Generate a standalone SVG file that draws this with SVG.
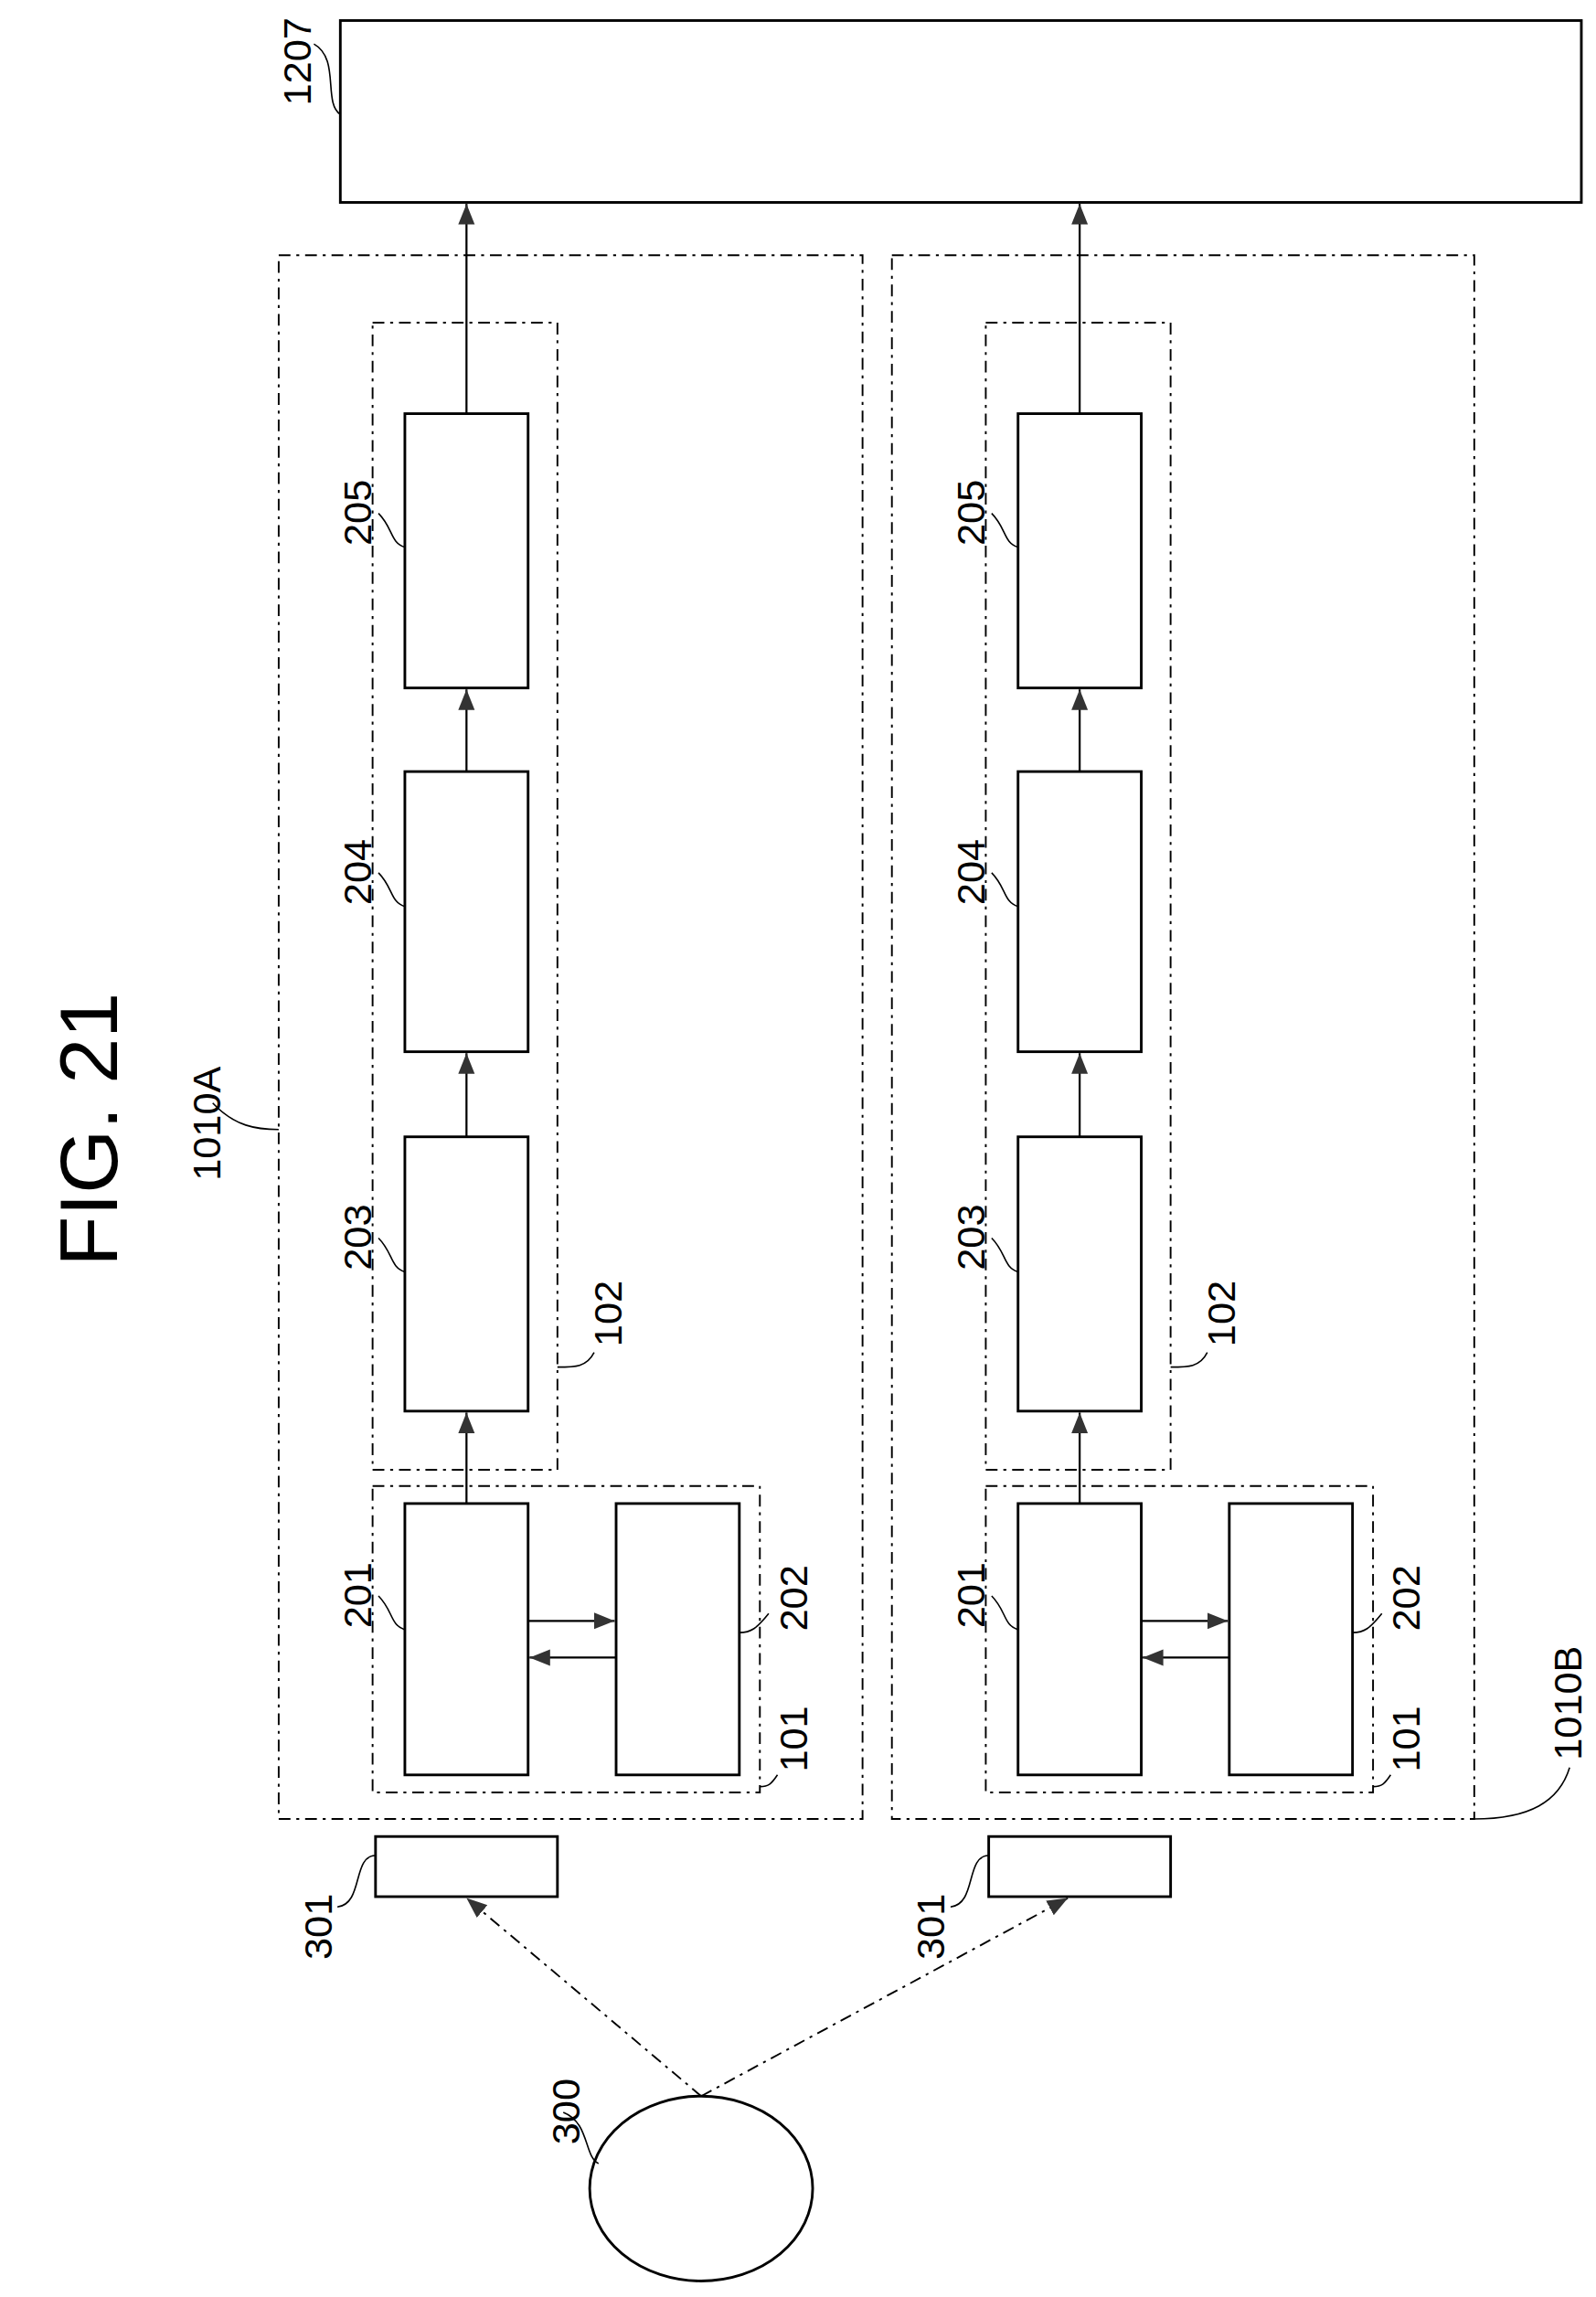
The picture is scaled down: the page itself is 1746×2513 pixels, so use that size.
<svg xmlns="http://www.w3.org/2000/svg" width="1746" height="2513" viewBox="0 0 1746 2513">
<style>
.b{fill:none;stroke:#000;stroke-width:1.8}
.d{fill:none;stroke:#000;stroke-width:1.2;stroke-dasharray:8,4,2,4}
.c{fill:none;stroke:#000;stroke-width:1.4}
.l{fill:none;stroke:#000;stroke-width:1}
.t{font-family:"Liberation Sans",Arial,sans-serif;font-size:27px;fill:#000}
</style>
<defs>
<marker id="a" viewBox="0 0 10 10" refX="10" refY="5" markerWidth="14" markerHeight="14" markerUnits="userSpaceOnUse" orient="auto"><path d="M0,1 L10,5 L0,9 Z" fill="#333"/></marker>
</defs>
<rect width="1746" height="2513" fill="#fff"/>
<g transform="scale(1.6048)">
<text class="t" style="font-size:56px" transform="translate(80,770) rotate(-90)" text-anchor="middle">FIG. 21</text>
<g id="n1207"><rect class="b" x="232" y="14" width="846" height="124"/><text class="t" transform="translate(212,72) rotate(-90)">1207</text><path class="l" d="M214,30 C232,40 220,70 232,78"/></g>
<g id="n300"><ellipse class="b" cx="478" cy="1492" rx="76" ry="63"/><text class="t" transform="translate(395,1462) rotate(-90)">300</text><path class="l" d="M384,1440 C402,1447 398,1470 408,1475"/></g>
<g id="A">
<g id="n1010A"><rect class="d" x="190" y="174" width="398" height="1066"/><text class="t" transform="translate(150,805) rotate(-90)">1010A</text><path class="l" d="M145,752 C160,768 175,770 190,770"/></g>
<g id="n102A"><rect class="d" x="254" y="220" width="126" height="782"/><text class="t" transform="translate(424,918) rotate(-90)">102</text><path class="l" d="M405,922 C400,932 392,932 380,932"/></g>
<g id="n101A"><rect class="d" x="254" y="1013" width="264" height="209"/><text class="t" transform="translate(550,1208) rotate(-90)">101</text><path class="l" d="M530,1210 C526,1216 524,1218 518,1218"/></g>
<g id="n205A"><rect class="b" x="276" y="282" width="84" height="187"/><text class="t" transform="translate(253,372) rotate(-90)">205</text><path class="l" d="M258,350 C268,360 266,370 276,373"/></g>
<g id="n204A"><rect class="b" x="276" y="526" width="84" height="191"/><text class="t" transform="translate(253,617) rotate(-90)">204</text><path class="l" d="M258,595 C268,605 266,615 276,618"/></g>
<g id="n203A"><rect class="b" x="276" y="775" width="84" height="187"/><text class="t" transform="translate(253,866) rotate(-90)">203</text><path class="l" d="M258,844 C268,854 266,864 276,867"/></g>
<g id="n201A"><rect class="b" x="276" y="1025" width="84" height="185"/><text class="t" transform="translate(253,1110) rotate(-90)">201</text><path class="l" d="M258,1088 C268,1098 266,1108 276,1111"/></g>
<g id="n202A"><rect class="b" x="420" y="1025" width="84" height="185"/><text class="t" transform="translate(550,1112) rotate(-90)">202</text><path class="l" d="M524,1100 C516,1110 512,1113 504,1113"/></g>
<g id="n301A"><rect class="b" x="256" y="1252" width="124" height="41"/><text class="t" transform="translate(226,1336) rotate(-90)">301</text><path class="l" d="M230,1300 C248,1298 240,1265 256,1265"/></g>
</g>
<g id="B" transform="translate(418,0)">
<g id="n1010B"><rect class="d" x="190" y="174" width="397" height="1066"/><text class="t" transform="translate(660,1200) rotate(-90)">1010B</text><path class="l" d="M652,1205 C645,1228 625,1240 587,1240"/></g>
<g id="n102B"><rect class="d" x="254" y="220" width="126" height="782"/><text class="t" transform="translate(424,918) rotate(-90)">102</text><path class="l" d="M405,922 C400,932 392,932 380,932"/></g>
<g id="n101B"><rect class="d" x="254" y="1013" width="264" height="209"/><text class="t" transform="translate(550,1208) rotate(-90)">101</text><path class="l" d="M530,1210 C526,1216 524,1218 518,1218"/></g>
<g id="n205B"><rect class="b" x="276" y="282" width="84" height="187"/><text class="t" transform="translate(253,372) rotate(-90)">205</text><path class="l" d="M258,350 C268,360 266,370 276,373"/></g>
<g id="n204B"><rect class="b" x="276" y="526" width="84" height="191"/><text class="t" transform="translate(253,617) rotate(-90)">204</text><path class="l" d="M258,595 C268,605 266,615 276,618"/></g>
<g id="n203B"><rect class="b" x="276" y="775" width="84" height="187"/><text class="t" transform="translate(253,866) rotate(-90)">203</text><path class="l" d="M258,844 C268,854 266,864 276,867"/></g>
<g id="n201B"><rect class="b" x="276" y="1025" width="84" height="185"/><text class="t" transform="translate(253,1110) rotate(-90)">201</text><path class="l" d="M258,1088 C268,1098 266,1108 276,1111"/></g>
<g id="n202B"><rect class="b" x="420" y="1025" width="84" height="185"/><text class="t" transform="translate(550,1112) rotate(-90)">202</text><path class="l" d="M524,1100 C516,1110 512,1113 504,1113"/></g>
<g id="n301B"><rect class="b" x="256" y="1252" width="124" height="41"/><text class="t" transform="translate(226,1336) rotate(-90)">301</text><path class="l" d="M230,1300 C248,1298 240,1265 256,1265"/></g>
</g>
<g id="connectors">
<path class="c" marker-end="url(#a)" d="M318,282 V139"/>
<path class="c" marker-end="url(#a)" d="M318,526 V470"/>
<path class="c" marker-end="url(#a)" d="M318,775 V718"/>
<path class="c" marker-end="url(#a)" d="M318,1025 V963"/>
<path class="c" marker-end="url(#a)" d="M360,1105 H419"/>
<path class="c" marker-end="url(#a)" d="M420,1130 H361"/>
<path class="c" marker-end="url(#a)" d="M736,282 V139"/>
<path class="c" marker-end="url(#a)" d="M736,526 V470"/>
<path class="c" marker-end="url(#a)" d="M736,775 V718"/>
<path class="c" marker-end="url(#a)" d="M736,1025 V963"/>
<path class="c" marker-end="url(#a)" d="M778,1105 H837"/>
<path class="c" marker-end="url(#a)" d="M838,1130 H779"/>
<path class="d" marker-end="url(#a)" d="M478,1429 L318,1294"/>
<path class="d" marker-end="url(#a)" d="M478,1429 L728,1294"/>
</g>
</g>
</svg>
